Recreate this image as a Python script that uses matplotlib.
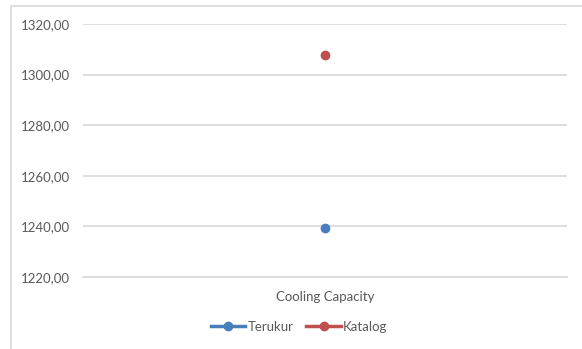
import matplotlib
matplotlib.use("Agg")
import matplotlib.pyplot as plt
from matplotlib.ticker import FuncFormatter, MultipleLocator
from matplotlib.patches import Rectangle

categories = ["Cooling Capacity"]
series_names = ["Terukur", "Katalog"]
terukur = [1239.3]
katalog = [1307.6]
colors = ["#4A7EBB", "#C0504D"]

plt.rcParams["font.family"] = ["Lato", "DejaVu Sans"]
text_color = "#595959"
grid_color = "#D9D9D9"

fig = plt.figure(figsize=(5.82, 3.49), dpi=100)
ax = fig.add_axes([83 / 582, 1 - 277 / 349, (567 - 83) / 582, (277 - 24) / 349])

# Outer chart frame
fig.patches.append(Rectangle((11 / 582, -0.1), 1.2, 1 - 6 / 349 + 0.1,
                             transform=fig.transFigure, fill=False,
                             edgecolor=grid_color, linewidth=1.2))

x = list(range(len(categories)))
for name, vals, c in zip(series_names, [terukur, katalog], colors):
    ax.plot(x, vals, color=c, linewidth=2.5, marker="o", markersize=6,
            label=name, zorder=3)

ax.set_xlim(-0.5, len(categories) - 0.5)
ax.set_ylim(1220, 1320)
ax.yaxis.set_major_locator(MultipleLocator(20))
ax.yaxis.set_major_formatter(FuncFormatter(lambda v, p: f"{v:.2f}".replace(".", ",")))
ax.set_xticks(x)
ax.set_xticklabels(categories)

ax.grid(axis="y", color=grid_color, linewidth=1.2)
ax.set_axisbelow(True)
for s in ["top", "right", "left"]:
    ax.spines[s].set_visible(False)
ax.spines["bottom"].set_color(grid_color)
ax.spines["bottom"].set_linewidth(1.2)
ax.tick_params(axis="both", length=0, labelsize=9.5, colors=text_color)
ax.tick_params(axis="y", pad=9.5)
ax.tick_params(axis="x", pad=10)

fig.legend(loc="center", bbox_to_anchor=(299 / 582, 1 - 327 / 349), ncol=2,
           frameon=False, fontsize=9.5, handlelength=2.6, handletextpad=0.15,
           columnspacing=1.0, labelcolor=text_color)

fig.savefig("out.png", dpi=100)
